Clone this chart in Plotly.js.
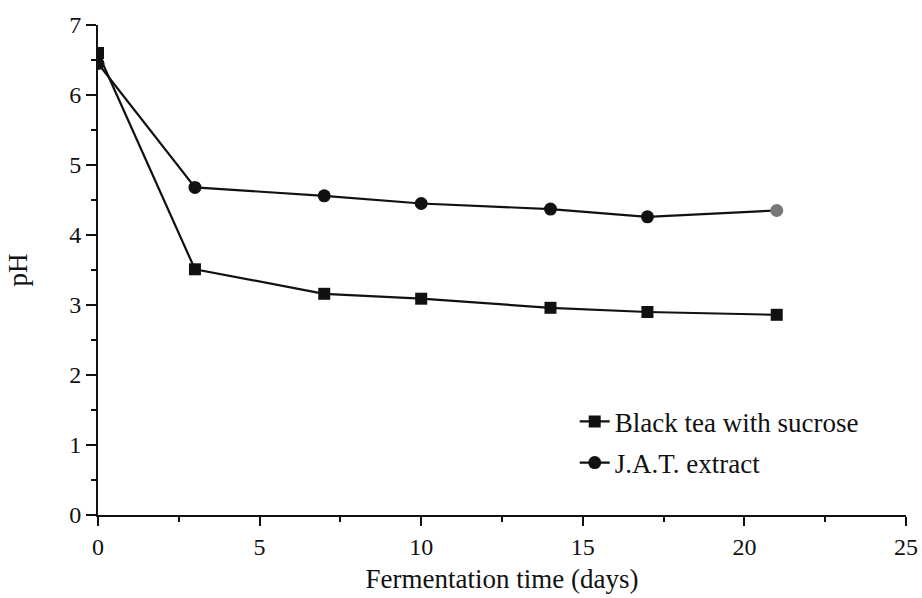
<!DOCTYPE html>
<html>
<head>
<meta charset="utf-8">
<script src="https://cdn.plot.ly/plotly-3.0.1.min.js"></script>
<style>html,body{margin:0;padding:0;background:#fff;}#chart{width:922px;height:598px;}</style>
</head>
<body>
<div id="chart"></div>
<script>
const days = [0, 3, 7, 10, 14, 17, 21];
const blackTea = [6.6, 3.51, 3.16, 3.09, 2.96, 2.9, 2.86];
const jatExtract = [6.45, 4.68, 4.56, 4.45, 4.37, 4.26, 4.35];
const jatMarkerColors = ['#111', '#111', '#111', '#111', '#111', '#111', '#777'];
const seriesNames = ['Black tea with sucrose', 'J.A.T. extract'];

const serif = 'Liberation Serif, Times New Roman, serif';
const traces = [
  {x: days, y: blackTea, name: seriesNames[0], mode: 'lines+markers', legendgroup: 'a',
   line: {color: '#111', width: 2.2}, marker: {symbol: 'square', size: 12, color: '#111'}},
  {x: days, y: jatExtract, name: seriesNames[1], mode: 'lines+markers', legendgroup: 'b',
   line: {color: '#111', width: 2.2}, marker: {symbol: 'circle', size: 13, color: jatMarkerColors}}
];
const layout = {
  width: 922, height: 598,
  margin: {l: 98, r: 16, t: 25, b: 83},
  paper_bgcolor: '#fff', plot_bgcolor: '#fff',
  font: {family: serif, color: '#111', size: 24},
  showlegend: true,
  legend: {x: 0.59, y: 0.24, xanchor: 'left', yanchor: 'top', bgcolor: 'rgba(0,0,0,0)',
           font: {family: serif, size: 27, color: '#111'}, tracegroupgap: 3, traceorder: 'grouped'},
  xaxis: {range: [0, 25], dtick: 5, tick0: 0, showgrid: false, zeroline: false,
          showline: true, linecolor: '#111', linewidth: 2, ticks: 'outside', ticklen: 9, tickwidth: 2, tickcolor: '#111',
          minor: {dtick: 2.5, ticks: 'outside', ticklen: 5, tickwidth: 2, tickcolor: '#111'},
          tickfont: {family: serif, size: 24},
          title: {text: 'Fermentation time (days)', font: {family: serif, size: 27}, standoff: 10}},
  yaxis: {range: [0, 7], dtick: 1, tick0: 0, showgrid: false, zeroline: false,
          showline: true, linecolor: '#111', linewidth: 2, ticks: 'outside', ticklen: 10, tickwidth: 2, tickcolor: '#111',
          minor: {dtick: 0.5, ticks: 'outside', ticklen: 5, tickwidth: 2, tickcolor: '#111'},
          tickfont: {family: serif, size: 24},
          title: {text: 'pH', font: {family: serif, size: 27}, standoff: 34}}
};
Plotly.newPlot('chart', traces, layout, {displayModeBar: false, staticPlot: true});
</script>
</body>
</html>
